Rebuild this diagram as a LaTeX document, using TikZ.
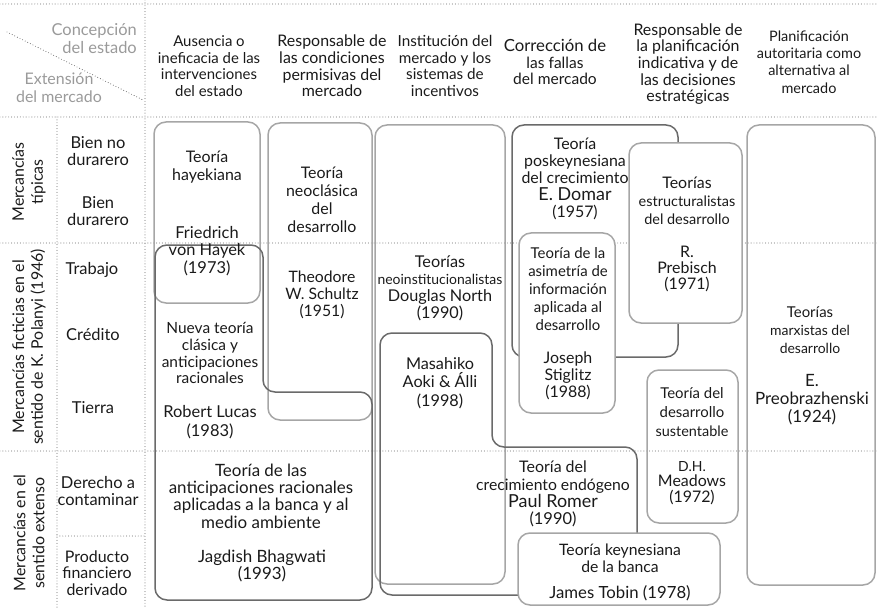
\documentclass[tikz,border=0pt]{standalone}
\usepackage{fontspec}
\setmainfont{Lato}
\definecolor{boxlight}{HTML}{A6A6A6}
\definecolor{boxdark}{HTML}{6A6A6A}
\definecolor{gridcol}{HTML}{404040}
\definecolor{headgray}{HTML}{9A9A9A}
\definecolor{txtcol}{HTML}{1A1A1A}
\newcommand{\setfs}[1]{\fontsize{#1}{17}\selectfont}
\begin{document}
\begin{tikzpicture}[x=1bp,y=-1bp,
  txt/.style={align=center,inner sep=0pt,font=\fontsize{15.5}{17.5}\selectfont,text=txtcol},
  gtxt/.style={txt,text=headgray,font=\fontsize{16.5}{18}\selectfont},
  rowtxt/.style={txt,font=\fontsize{16.5}{17.5}\selectfont},
  rtxt/.style={txt,rotate=90,font=\fontsize{16}{19}\selectfont},
  lbox/.style={draw=boxlight,line width=1.5bp,rounded corners=12bp},
  dbox/.style={draw=boxdark,line width=1.5bp,rounded corners=12bp},
  gridline/.style={draw=gridcol,line width=0.9bp,line cap=round,dash pattern=on 0bp off 2.9bp}]
\useasboundingbox (0,0) rectangle (877,608);
% grid
\draw[gridline] (0,4) -- (877,4);
\draw[gridline] (0,117) -- (877,117);
\draw[gridline] (0,243) -- (877,243);
\draw[gridline] (0,451) -- (877,451);
\draw[gridline] (57,536) -- (145,536);
\draw[gridline] (145,0) -- (145,608);
\draw[gridline] (57,117) -- (57,608);
\draw[gridline] (7,32) -- (143,100);
% boxes
\draw[lbox] (154,122) rectangle (260,303);
\draw[lbox] (268,123) rectangle (372,420);
\draw[lbox] (375,125) rectangle (505,584);
\draw[lbox] (747,125) rectangle (875,585);
\draw[lbox] (647,370) rectangle (738,523);
\draw[dbox] (512,125) rectangle (678,357);
\draw[lbox,fill=white] (519,233) rectangle (615,413);
\draw[lbox,fill=white] (629,143) rectangle (742,323);
\draw[dbox] (155,245) -- (263,245) -- (263,392) -- (372,392) -- (372,600) -- (155,600) -- cycle;
\draw[dbox] (380,333) -- (492,333) -- (492,447) -- (637,447) -- (637,595) -- (380,595) -- cycle;
\draw[lbox,fill=white] (518,533) rectangle (720,605);
% header
\node[gtxt,anchor=east,align=right] (concep) at (137,39) {Concepción\\del estado};
\node[gtxt,font=\fontsize{16}{18}\selectfont] (exten) at (59,88) {Extensión\\del mercado};
\node[txt,font=\fontsize{15}{16.8}\selectfont] (h1) at (209,66) {Ausencia o\\ineficacia de las\\intervenciones\\del estado};
\node[txt,font=\fontsize{16}{16.8}\selectfont] (h2) at (332,66) {Responsable de\\las condiciones\\permisivas del\\mercado};
\node[txt,font=\fontsize{15.3}{16.8}\selectfont] (h3) at (445,66) {Institución del\\mercado y los\\sistemas de\\incentivos};
\node[txt,font=\fontsize{15.6}{16.5}\selectfont] (h4) at (555,62) {{\setfs{16.8}Corrección de}\\las fallas\\del mercado};
\node[txt,font=\fontsize{16}{16.7}\selectfont] (h5) at (688,64) {Responsable de\\la planificación\\indicativa y de\\las decisiones\\estratégicas};
\node[txt,font=\fontsize{14.5}{17.5}\selectfont] (h6) at (809,62) {Planificación\\autoritaria como\\alternativa al\\mercado};
% row groups
\node[rtxt] (g1) at (29,182) {Mercancías\\típicas};
\node[rtxt] (g2) at (29,347) {Mercancías ficticias en el\\sentido de K. Polanyi (1946)};
\node[rtxt] (g3) at (29,533) {Mercancías en el\\sentido extenso};
% sub rows
\node[rowtxt] (r1) at (98,151) {Bien no\\durarero};
\node[rowtxt] (r2) at (98,211) {Bien\\durarero};
\node[rowtxt] (r3) at (92,270) {Trabajo};
\node[rowtxt] (r4) at (93,335) {Crédito};
\node[rowtxt] (r5) at (93,408) {Tierra};
\node[rowtxt] (r6) at (98,491) {Derecho a\\contaminar};
\node[rowtxt,font=\fontsize{16}{16.5}\selectfont] (r7) at (97,573) {Producto\\financiero\\derivado};
% contents
\node[txt,font=\fontsize{16}{18.5}\selectfont] (t1) at (207,167) {Teoría\\hayekiana};
\node[txt,font=\fontsize{16.5}{17.5}\selectfont] (t1b) at (207,251) {Friedrich\\von Hayek\\(1973)};
\node[txt,font=\fontsize{15.5}{17}\selectfont] (t2) at (210,353) {Nueva teoría\\clásica y\\anticipaciones\\racionales};
\node[txt,font=\fontsize{16.5}{18.5}\selectfont] (t2b) at (210,422) {Robert Lucas\\(1983)};
\node[txt,font=\fontsize{17}{17.4}\selectfont] (t3) at (261,496) {Teoría de las\\anticipaciones racionales\\aplicadas a la banca y al\\medio ambiente};
\node[txt,font=\fontsize{17}{16}\selectfont] (t3b) at (262,566) {Jagdish Bhagwati\\(1993)};
\node[txt,font=\fontsize{16}{18}\selectfont] (t4) at (322,200) {Teoría\\neoclásica\\del\\desarrollo};
\node[txt,font=\fontsize{15.8}{17}\selectfont] (t4b) at (322,295) {Theodore\\W. Schultz\\(1951)};
\node[txt,font=\fontsize{16.3}{17}\selectfont] (t5) at (440,288) {Teorías\\{\setfs{14}neoinstitucionalistas}\\Douglas North\\(1990)};
\node[txt,font=\fontsize{16.3}{18.5}\selectfont] (t6) at (440,383) {Masahiko\\Aoki \& Álli\\(1998)};
\node[txt,font=\fontsize{16}{17}\selectfont] (t7) at (575,179) {Teoría\\poskeynesiana\\del crecimiento\\{\setfs{18}E. Domar}\\(1957)};
\node[txt,font=\fontsize{15}{18}\selectfont] (t8) at (568,289) {Teoría de la\\asimetría de\\información\\aplicada al\\desarrollo};
\node[txt,font=\fontsize{16}{17}\selectfont] (t8b) at (568,376) {Joseph\\Stiglitz\\(1988)};
\node[txt,font=\fontsize{14.5}{18}\selectfont] (t9) at (687,201) {{\setfs{16}Teorías}\\estructuralistas\\del desarrollo};
\node[txt,font=\fontsize{16}{16}\selectfont] (t9b) at (687,269) {R.\\Prebisch\\(1971)};
\node[txt,font=\fontsize{14}{18}\selectfont] (t10) at (810,330) {{\setfs{15}Teorías}\\marxistas del\\desarrollo};
\node[txt,font=\fontsize{17}{18}\selectfont] (t10b) at (812,400) {E.\\Preobrazhenski\\(1924)};
\node[txt,font=\fontsize{15}{19.5}\selectfont] (t11) at (692,412) {Teoría del\\desarrollo\\{\setfs{14.5}sustentable}};
\node[txt,font=\fontsize{16}{15.5}\selectfont] (t11b) at (692,483) {{\setfs{14}D.H.}\\Meadows\\(1972)};
\node[txt,font=\fontsize{16.5}{17.2}\selectfont] (t12) at (553,494) {{\setfs{16}Teoría del}\\{\setfs{15.8}crecimiento endógeno}\\{\setfs{18}Paul Romer}\\(1990)};
\node[txt,font=\fontsize{15.8}{17}\selectfont] (t13) at (620,558) {Teoría keynesiana\\de la banca};
\node[txt,font=\fontsize{16.8}{17}\selectfont] (t13b) at (620,593) {James Tobin (1978)};
\end{tikzpicture}
\end{document}
